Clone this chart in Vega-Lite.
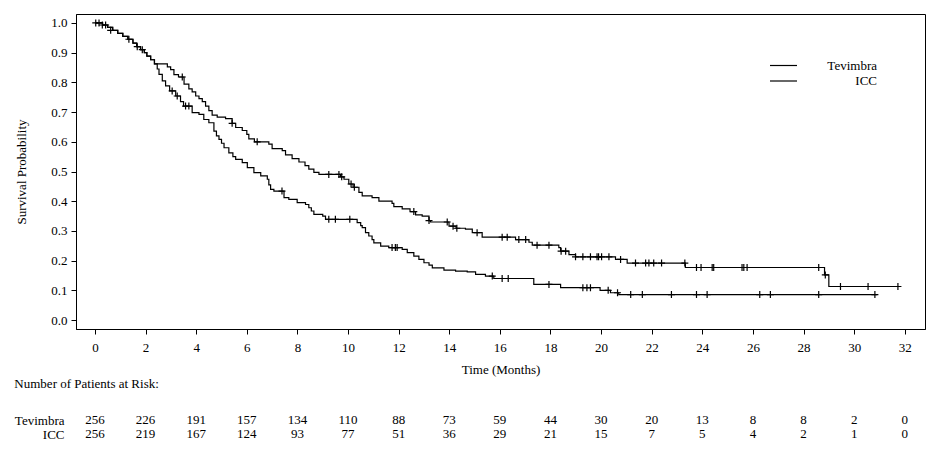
{
  "$schema": "https://vega.github.io/schema/vega-lite/v6.json",
  "background": "white",
  "padding": {"left": 14, "top": 13, "right": 5, "bottom": 5},
  "config": {
    "font": "Liberation Serif",
    "view": {"stroke": "black", "strokeWidth": 1},
    "axis": {"labelFont": "Liberation Serif", "titleFont": "Liberation Serif", "labelFontSize": 13, "titleFontSize": 13, "labelColor": "black", "titleColor": "black", "titleFontWeight": "normal", "domainColor": "black", "tickColor": "black", "grid": false, "tickSize": 5, "labelOverlap": false},
    "title": {"font": "Liberation Serif", "fontSize": 13, "fontWeight": "normal", "color": "black"},
    "concat": {"spacing": 1}
  },
  "datasets": {
    "curves": [
      {"arm":"Tevimbra","t":0,"s":1.0},{"arm":"Tevimbra","t":0.3,"s":0.993},{"arm":"Tevimbra","t":0.5,"s":0.985},{"arm":"Tevimbra","t":0.7,"s":0.975},{"arm":"Tevimbra","t":0.9,"s":0.965},{"arm":"Tevimbra","t":1.1,"s":0.955},{"arm":"Tevimbra","t":1.3,"s":0.945},{"arm":"Tevimbra","t":1.5,"s":0.932},{"arm":"Tevimbra","t":1.65,"s":0.92},{"arm":"Tevimbra","t":1.8,"s":0.91},{"arm":"Tevimbra","t":1.95,"s":0.9},{"arm":"Tevimbra","t":2.05,"s":0.888},{"arm":"Tevimbra","t":2.2,"s":0.876},{"arm":"Tevimbra","t":2.35,"s":0.862},{"arm":"Tevimbra","t":2.86,"s":0.852},{"arm":"Tevimbra","t":2.99,"s":0.843},{"arm":"Tevimbra","t":3.12,"s":0.826},{"arm":"Tevimbra","t":3.3,"s":0.818},{"arm":"Tevimbra","t":3.52,"s":0.794},{"arm":"Tevimbra","t":3.71,"s":0.778},{"arm":"Tevimbra","t":3.84,"s":0.768},{"arm":"Tevimbra","t":3.98,"s":0.754},{"arm":"Tevimbra","t":4.11,"s":0.745},{"arm":"Tevimbra","t":4.24,"s":0.735},{"arm":"Tevimbra","t":4.37,"s":0.72},{"arm":"Tevimbra","t":4.5,"s":0.705},{"arm":"Tevimbra","t":4.63,"s":0.69},{"arm":"Tevimbra","t":4.83,"s":0.683},{"arm":"Tevimbra","t":5.16,"s":0.678},{"arm":"Tevimbra","t":5.42,"s":0.662},{"arm":"Tevimbra","t":5.56,"s":0.648},{"arm":"Tevimbra","t":5.82,"s":0.638},{"arm":"Tevimbra","t":6.0,"s":0.625},{"arm":"Tevimbra","t":6.08,"s":0.61},{"arm":"Tevimbra","t":6.3,"s":0.6},{"arm":"Tevimbra","t":6.87,"s":0.592},{"arm":"Tevimbra","t":7.0,"s":0.577},{"arm":"Tevimbra","t":7.4,"s":0.57},{"arm":"Tevimbra","t":7.53,"s":0.556},{"arm":"Tevimbra","t":7.79,"s":0.543},{"arm":"Tevimbra","t":8.06,"s":0.532},{"arm":"Tevimbra","t":8.3,"s":0.52},{"arm":"Tevimbra","t":8.45,"s":0.508},{"arm":"Tevimbra","t":8.65,"s":0.497},{"arm":"Tevimbra","t":8.85,"s":0.49},{"arm":"Tevimbra","t":9.7,"s":0.482},{"arm":"Tevimbra","t":9.84,"s":0.474},{"arm":"Tevimbra","t":10.03,"s":0.458},{"arm":"Tevimbra","t":10.2,"s":0.447},{"arm":"Tevimbra","t":10.43,"s":0.43},{"arm":"Tevimbra","t":10.56,"s":0.418},{"arm":"Tevimbra","t":10.95,"s":0.412},{"arm":"Tevimbra","t":11.22,"s":0.4},{"arm":"Tevimbra","t":11.74,"s":0.393},{"arm":"Tevimbra","t":11.81,"s":0.382},{"arm":"Tevimbra","t":12.14,"s":0.374},{"arm":"Tevimbra","t":12.45,"s":0.365},{"arm":"Tevimbra","t":12.67,"s":0.354},{"arm":"Tevimbra","t":12.93,"s":0.35},{"arm":"Tevimbra","t":13.2,"s":0.335},{"arm":"Tevimbra","t":13.26,"s":0.33},{"arm":"Tevimbra","t":13.99,"s":0.316},{"arm":"Tevimbra","t":14.27,"s":0.309},{"arm":"Tevimbra","t":14.64,"s":0.306},{"arm":"Tevimbra","t":14.91,"s":0.294},{"arm":"Tevimbra","t":15.3,"s":0.279},{"arm":"Tevimbra","t":16.62,"s":0.271},{"arm":"Tevimbra","t":17.15,"s":0.262},{"arm":"Tevimbra","t":17.28,"s":0.252},{"arm":"Tevimbra","t":18.33,"s":0.244},{"arm":"Tevimbra","t":18.4,"s":0.232},{"arm":"Tevimbra","t":18.73,"s":0.22},{"arm":"Tevimbra","t":18.99,"s":0.213},{"arm":"Tevimbra","t":20.57,"s":0.204},{"arm":"Tevimbra","t":21.03,"s":0.192},{"arm":"Tevimbra","t":23.33,"s":0.177},{"arm":"Tevimbra","t":28.83,"s":0.152},{"arm":"Tevimbra","t":29.0,"s":0.113},{"arm":"Tevimbra","t":31.85,"s":0.113},
      {"arm":"ICC","t":0,"s":1.0},{"arm":"ICC","t":0.3,"s":0.993},{"arm":"ICC","t":0.5,"s":0.985},{"arm":"ICC","t":0.7,"s":0.975},{"arm":"ICC","t":0.9,"s":0.965},{"arm":"ICC","t":1.1,"s":0.955},{"arm":"ICC","t":1.3,"s":0.945},{"arm":"ICC","t":1.5,"s":0.932},{"arm":"ICC","t":1.65,"s":0.92},{"arm":"ICC","t":1.8,"s":0.91},{"arm":"ICC","t":1.95,"s":0.9},{"arm":"ICC","t":2.05,"s":0.888},{"arm":"ICC","t":2.2,"s":0.876},{"arm":"ICC","t":2.35,"s":0.862},{"arm":"ICC","t":2.46,"s":0.845},{"arm":"ICC","t":2.53,"s":0.827},{"arm":"ICC","t":2.66,"s":0.805},{"arm":"ICC","t":2.79,"s":0.788},{"arm":"ICC","t":2.95,"s":0.771},{"arm":"ICC","t":3.19,"s":0.754},{"arm":"ICC","t":3.38,"s":0.735},{"arm":"ICC","t":3.5,"s":0.72},{"arm":"ICC","t":3.84,"s":0.698},{"arm":"ICC","t":4.11,"s":0.692},{"arm":"ICC","t":4.3,"s":0.675},{"arm":"ICC","t":4.5,"s":0.664},{"arm":"ICC","t":4.7,"s":0.636},{"arm":"ICC","t":4.8,"s":0.62},{"arm":"ICC","t":4.9,"s":0.608},{"arm":"ICC","t":5.0,"s":0.595},{"arm":"ICC","t":5.1,"s":0.58},{"arm":"ICC","t":5.29,"s":0.563},{"arm":"ICC","t":5.45,"s":0.55},{"arm":"ICC","t":5.56,"s":0.541},{"arm":"ICC","t":5.82,"s":0.53},{"arm":"ICC","t":6.02,"s":0.513},{"arm":"ICC","t":6.28,"s":0.496},{"arm":"ICC","t":6.55,"s":0.485},{"arm":"ICC","t":6.81,"s":0.474},{"arm":"ICC","t":6.87,"s":0.455},{"arm":"ICC","t":6.94,"s":0.44},{"arm":"ICC","t":7.07,"s":0.434},{"arm":"ICC","t":7.47,"s":0.412},{"arm":"ICC","t":7.66,"s":0.406},{"arm":"ICC","t":7.99,"s":0.395},{"arm":"ICC","t":8.32,"s":0.389},{"arm":"ICC","t":8.45,"s":0.378},{"arm":"ICC","t":8.55,"s":0.367},{"arm":"ICC","t":8.65,"s":0.356},{"arm":"ICC","t":9.0,"s":0.35},{"arm":"ICC","t":9.11,"s":0.339},{"arm":"ICC","t":10.36,"s":0.328},{"arm":"ICC","t":10.5,"s":0.318},{"arm":"ICC","t":10.56,"s":0.311},{"arm":"ICC","t":10.69,"s":0.294},{"arm":"ICC","t":10.82,"s":0.283},{"arm":"ICC","t":10.95,"s":0.271},{"arm":"ICC","t":11.02,"s":0.26},{"arm":"ICC","t":11.29,"s":0.249},{"arm":"ICC","t":11.61,"s":0.244},{"arm":"ICC","t":12.14,"s":0.238},{"arm":"ICC","t":12.34,"s":0.227},{"arm":"ICC","t":12.6,"s":0.215},{"arm":"ICC","t":12.8,"s":0.204},{"arm":"ICC","t":13.0,"s":0.193},{"arm":"ICC","t":13.2,"s":0.185},{"arm":"ICC","t":13.33,"s":0.176},{"arm":"ICC","t":13.79,"s":0.168},{"arm":"ICC","t":14.25,"s":0.165},{"arm":"ICC","t":14.71,"s":0.162},{"arm":"ICC","t":15.04,"s":0.154},{"arm":"ICC","t":15.43,"s":0.148},{"arm":"ICC","t":15.76,"s":0.14},{"arm":"ICC","t":17.34,"s":0.12},{"arm":"ICC","t":18.4,"s":0.109},{"arm":"ICC","t":19.96,"s":0.1},{"arm":"ICC","t":20.37,"s":0.092},{"arm":"ICC","t":20.7,"s":0.086},{"arm":"ICC","t":30.91,"s":0.086}
    ],
    "censors": [
      {"arm":"Tevimbra","t":0.03,"s":1.0},{"arm":"Tevimbra","t":0.29,"s":0.993},{"arm":"Tevimbra","t":0.62,"s":0.975},{"arm":"Tevimbra","t":1.34,"s":0.945},{"arm":"Tevimbra","t":1.87,"s":0.91},{"arm":"Tevimbra","t":3.45,"s":0.818},{"arm":"Tevimbra","t":5.42,"s":0.662},{"arm":"Tevimbra","t":6.41,"s":0.6},{"arm":"Tevimbra","t":9.24,"s":0.49},{"arm":"Tevimbra","t":9.64,"s":0.49},{"arm":"Tevimbra","t":9.75,"s":0.482},{"arm":"Tevimbra","t":10.12,"s":0.458},{"arm":"Tevimbra","t":10.25,"s":0.447},{"arm":"Tevimbra","t":12.6,"s":0.365},{"arm":"Tevimbra","t":13.2,"s":0.335},{"arm":"Tevimbra","t":13.92,"s":0.33},{"arm":"Tevimbra","t":14.15,"s":0.316},{"arm":"Tevimbra","t":14.3,"s":0.309},{"arm":"Tevimbra","t":15.1,"s":0.294},{"arm":"Tevimbra","t":16.09,"s":0.279},{"arm":"Tevimbra","t":16.29,"s":0.279},{"arm":"Tevimbra","t":16.75,"s":0.271},{"arm":"Tevimbra","t":17.02,"s":0.271},{"arm":"Tevimbra","t":17.47,"s":0.252},{"arm":"Tevimbra","t":17.94,"s":0.252},{"arm":"Tevimbra","t":18.42,"s":0.232},{"arm":"Tevimbra","t":18.6,"s":0.232},{"arm":"Tevimbra","t":18.99,"s":0.213},{"arm":"Tevimbra","t":19.28,"s":0.213},{"arm":"Tevimbra","t":19.58,"s":0.213},{"arm":"Tevimbra","t":19.84,"s":0.213},{"arm":"Tevimbra","t":19.9,"s":0.213},{"arm":"Tevimbra","t":20.02,"s":0.213},{"arm":"Tevimbra","t":20.31,"s":0.213},{"arm":"Tevimbra","t":20.77,"s":0.204},{"arm":"Tevimbra","t":21.36,"s":0.192},{"arm":"Tevimbra","t":21.76,"s":0.192},{"arm":"Tevimbra","t":21.89,"s":0.192},{"arm":"Tevimbra","t":22.08,"s":0.192},{"arm":"Tevimbra","t":22.39,"s":0.192},{"arm":"Tevimbra","t":23.31,"s":0.192},{"arm":"Tevimbra","t":23.77,"s":0.177},{"arm":"Tevimbra","t":23.95,"s":0.177},{"arm":"Tevimbra","t":24.39,"s":0.177},{"arm":"Tevimbra","t":24.45,"s":0.177},{"arm":"Tevimbra","t":25.57,"s":0.177},{"arm":"Tevimbra","t":25.64,"s":0.177},{"arm":"Tevimbra","t":25.77,"s":0.177},{"arm":"Tevimbra","t":28.6,"s":0.177},{"arm":"Tevimbra","t":28.86,"s":0.152},{"arm":"Tevimbra","t":29.46,"s":0.113},{"arm":"Tevimbra","t":30.55,"s":0.113},{"arm":"Tevimbra","t":31.73,"s":0.113},
      {"arm":"ICC","t":0.16,"s":1.0},{"arm":"ICC","t":0.42,"s":0.993},{"arm":"ICC","t":1.67,"s":0.92},{"arm":"ICC","t":3.05,"s":0.771},{"arm":"ICC","t":3.25,"s":0.754},{"arm":"ICC","t":3.58,"s":0.72},{"arm":"ICC","t":3.71,"s":0.72},{"arm":"ICC","t":7.39,"s":0.434},{"arm":"ICC","t":9.24,"s":0.339},{"arm":"ICC","t":9.5,"s":0.339},{"arm":"ICC","t":10.07,"s":0.339},{"arm":"ICC","t":11.74,"s":0.244},{"arm":"ICC","t":11.87,"s":0.244},{"arm":"ICC","t":11.94,"s":0.244},{"arm":"ICC","t":15.7,"s":0.148},{"arm":"ICC","t":16.09,"s":0.14},{"arm":"ICC","t":16.33,"s":0.14},{"arm":"ICC","t":17.94,"s":0.12},{"arm":"ICC","t":19.28,"s":0.109},{"arm":"ICC","t":19.44,"s":0.109},{"arm":"ICC","t":19.58,"s":0.109},{"arm":"ICC","t":20.28,"s":0.1},{"arm":"ICC","t":20.65,"s":0.092},{"arm":"ICC","t":21.17,"s":0.086},{"arm":"ICC","t":21.63,"s":0.086},{"arm":"ICC","t":22.78,"s":0.086},{"arm":"ICC","t":23.77,"s":0.086},{"arm":"ICC","t":24.19,"s":0.086},{"arm":"ICC","t":26.27,"s":0.086},{"arm":"ICC","t":26.69,"s":0.086},{"arm":"ICC","t":28.6,"s":0.086},{"arm":"ICC","t":30.82,"s":0.086}
    ],
    "risk": [
      {"arm":"Tevimbra","t":0,"n":256},{"arm":"Tevimbra","t":2,"n":226},{"arm":"Tevimbra","t":4,"n":191},{"arm":"Tevimbra","t":6,"n":157},{"arm":"Tevimbra","t":8,"n":134},{"arm":"Tevimbra","t":10,"n":110},{"arm":"Tevimbra","t":12,"n":88},{"arm":"Tevimbra","t":14,"n":73},{"arm":"Tevimbra","t":16,"n":59},{"arm":"Tevimbra","t":18,"n":44},{"arm":"Tevimbra","t":20,"n":30},{"arm":"Tevimbra","t":22,"n":20},{"arm":"Tevimbra","t":24,"n":13},{"arm":"Tevimbra","t":26,"n":8},{"arm":"Tevimbra","t":28,"n":8},{"arm":"Tevimbra","t":30,"n":2},{"arm":"Tevimbra","t":32,"n":0},
      {"arm":"ICC","t":0,"n":256},{"arm":"ICC","t":2,"n":219},{"arm":"ICC","t":4,"n":167},{"arm":"ICC","t":6,"n":124},{"arm":"ICC","t":8,"n":93},{"arm":"ICC","t":10,"n":77},{"arm":"ICC","t":12,"n":51},{"arm":"ICC","t":14,"n":36},{"arm":"ICC","t":16,"n":29},{"arm":"ICC","t":18,"n":21},{"arm":"ICC","t":20,"n":15},{"arm":"ICC","t":22,"n":7},{"arm":"ICC","t":24,"n":5},{"arm":"ICC","t":26,"n":4},{"arm":"ICC","t":28,"n":2},{"arm":"ICC","t":30,"n":1},{"arm":"ICC","t":32,"n":0}
    ]
  },
  "vconcat": [
    {
      "width": 849,
      "height": 315,
      "encoding": {
        "x": {"field": "t", "type": "quantitative", "scale": {"domain": [-0.75, 32.8], "nice": false, "zero": false},
              "axis": {"values": [0,2,4,6,8,10,12,14,16,18,20,22,24,26,28,30,32], "title": "Time (Months)", "labelPadding": 7, "titlePadding": 9, "labelOverlap": false}},
        "y": {"field": "s", "type": "quantitative", "scale": {"domain": [-0.03, 1.03], "nice": false, "zero": false},
              "axis": {"values": [0,0.1,0.2,0.3,0.4,0.5,0.6,0.7,0.8,0.9,1], "format": ".1f", "title": "Survival Probability", "labelPadding": 4, "titlePadding": 22, "labelOverlap": false, "tickCount": 11}}
      },
      "layer": [
        {
          "data": {"name": "curves"},
          "mark": {"type": "line", "interpolate": "step-after", "strokeWidth": 1.2},
          "encoding": {
            "color": {"field": "arm", "type": "nominal", "scale": {"domain": ["Tevimbra", "ICC"], "range": ["black", "black"]},
                      "legend": {"orient": "none", "legendX": 700, "legendY": 44, "title": null, "symbolType": "M-2,0L2,0", "symbolSize": 182, "symbolStrokeWidth": 1.2, "symbolStrokeColor": "black", "symbolFillColor": "transparent", "labelAlign": "right", "labelOffset": 86, "labelFontSize": 13, "labelFont": "Liberation Serif", "labelColor": "black", "rowPadding": 0.5, "padding": 0}}
          }
        },
        {
          "data": {"name": "censors"},
          "mark": {"type": "point", "shape": "M-1,0L1,0M0,-1L0,1", "filled": false, "color": "black", "size": 49, "strokeWidth": 1.2, "opacity": 1}
        }
      ]
    },
    {
      "width": 849,
      "height": 28,
      "view": {"stroke": null},
      "title": {"text": "Number of Patients at Risk:", "anchor": "start", "frame": "bounds", "offset": 22},
      "data": {"name": "risk"},
      "mark": {"type": "text", "font": "Liberation Serif", "fontSize": 13, "color": "black"},
      "encoding": {
        "x": {"field": "t", "type": "quantitative", "scale": {"domain": [-0.75, 32.8], "nice": false, "zero": false}, "axis": null},
        "y": {"field": "arm", "type": "nominal", "sort": ["Tevimbra", "ICC"], "axis": {"title": null, "domain": false, "ticks": false, "labelPadding": 12, "labelAlign": "right"}},
        "text": {"field": "n", "type": "quantitative"}
      }
    }
  ]
}
